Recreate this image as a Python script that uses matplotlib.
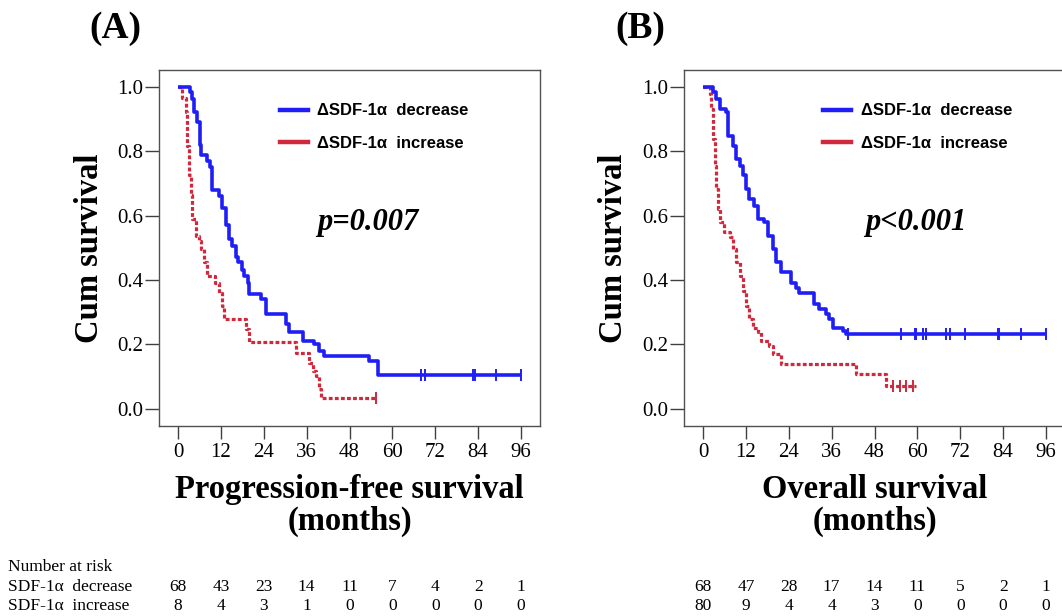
import matplotlib
matplotlib.use("Agg")
import matplotlib.pyplot as plt
from matplotlib.lines import Line2D
from matplotlib.transforms import blended_transform_factory

plt.rcParams['font.family'] = ['Liberation Serif', 'DejaVu Serif']

# ---- data ----
months = [0, 12, 24, 36, 48, 60, 72, 84, 96]

# (A) progression-free survival
pfs_dec_t = [0, 3.3, 3.8, 4.5, 5.4, 6.1, 6.4, 8.2, 8.9, 9.6, 11.6, 12.4, 13.4, 14.3, 15.2,
             16.2, 16.8, 18.0, 18.5, 19.5, 19.9, 23.2, 24.6, 30.2, 31.2, 35.0, 38.2, 39.6,
             41.0, 53.4, 56.0]
pfs_dec_s = [1.0, 0.985, 0.964, 0.922, 0.89, 0.82, 0.79, 0.77, 0.75, 0.68, 0.66, 0.625, 0.57,
             0.528, 0.507, 0.47, 0.455, 0.43, 0.413, 0.392, 0.356, 0.34, 0.294, 0.263, 0.237,
             0.21, 0.2, 0.18, 0.164, 0.148, 0.105]
pfs_dec_end = 96.1
pfs_dec_cens = [68.1, 69.0, 82.6, 83.1, 89.1, 96.1]

pfs_inc_t = [0, 1.0, 2.2, 2.6, 3.1, 3.6, 4.0, 5.0, 5.9, 6.4, 7.3, 8.0, 10.5, 11.5, 12.4, 12.9,
             19.0, 19.9, 33.0, 36.8, 37.7, 38.6, 39.6, 40.0]
pfs_inc_s = [1.0, 0.966, 0.922, 0.818, 0.725, 0.663, 0.59, 0.538, 0.52, 0.496, 0.455, 0.413,
             0.39, 0.361, 0.32, 0.278, 0.247, 0.206, 0.174, 0.143, 0.117, 0.102, 0.06, 0.034]
pfs_inc_end = 55.5
pfs_inc_cens = [55.5]

# (B) overall survival
os_dec_t = [0, 2.8, 3.7, 4.7, 6.5, 7.0, 8.4, 9.3, 10.3, 11.2, 12.1, 13.0, 14.4, 15.4, 17.2,
            18.2, 19.6, 20.5, 21.9, 24.7, 26.0, 27.0, 31.2, 32.6, 34.5, 35.4, 36.3, 39.1, 40.1]
os_dec_s = [1.0, 0.985, 0.964, 0.933, 0.922, 0.849, 0.818, 0.777, 0.756, 0.725, 0.683, 0.652,
            0.631, 0.59, 0.579, 0.538, 0.496, 0.455, 0.424, 0.39, 0.375, 0.361, 0.325, 0.309,
            0.293, 0.278, 0.252, 0.242, 0.232]
os_dec_end = 96.0
os_dec_cens = [40.5, 55.5, 59.3, 59.7, 61.5, 62.4, 68.0, 69.0, 73.2, 82.5, 82.9, 89.0, 96.0]

os_inc_t = [0, 1.9, 2.3, 2.8, 3.3, 3.7, 4.2, 4.9, 5.9, 7.5, 8.4, 9.3, 10.3, 11.2, 12.1, 13.0,
            14.0, 15.4, 16.3, 18.6, 19.6, 21.9, 42.9, 51.3]
os_inc_s = [1.0, 0.979, 0.933, 0.839, 0.756, 0.683, 0.621, 0.579, 0.548, 0.533, 0.496, 0.455,
            0.413, 0.367, 0.32, 0.278, 0.252, 0.237, 0.211, 0.195, 0.169, 0.138, 0.107, 0.071]
os_inc_end = 59.5
os_inc_cens = [53.1, 55.0, 56.9, 58.7]

risk_a_dec = [68, 43, 23, 14, 11, 7, 4, 2, 1]
risk_a_inc = [8, 4, 3, 1, 0, 0, 0, 0, 0]
risk_b_dec = [68, 47, 28, 17, 14, 11, 5, 2, 1]
risk_b_inc = [80, 9, 4, 4, 3, 0, 0, 0, 0]

blue = '#1f1ff5'
red = '#d0283c'

W, H = 1062, 616
fig = plt.figure(figsize=(W / 100, H / 100), dpi=100)


def make_axes(left, top, right, bottom):
    return fig.add_axes([left / W, 1 - bottom / H, (right - left) / W, (bottom - top) / H])


def km(ax, t, s, end, cens, color, ls, lw):
    tt = t + [end]
    ss = s + [s[-1]]
    ax.step(tt, ss, where='post', color=color, linestyle=ls, lw=lw, solid_capstyle='butt')
    ax.plot(cens, [s[-1]] * len(cens), linestyle='none', marker='|', ms=9, mew=1.4, color=color)


def style(ax):
    ax.set_xlim(-5.3, 101.3)
    ax.set_ylim(-0.054, 1.053)
    ax.set_xticks(months)
    ax.set_yticks([0, 0.2, 0.4, 0.6, 0.8, 1.0])
    ax.set_yticklabels(['0.0', '0.2', '0.4', '0.6', '0.8', '1.0'])
    for sp in ax.spines.values():
        sp.set_color('#505050')
        sp.set_linewidth(1.0)
    ax.tick_params(axis='both', colors='#404040', labelcolor='black', labelsize=15, width=1.0)
    ax.tick_params(axis='y', length=10, pad=1.5)
    ax.tick_params(axis='x', length=9, pad=3)


dotted = (0, (1.2, 0.7))
panels = [
    ('(A)', 159, 'p=0.007', 'Progression-free survival',
     (pfs_dec_t, pfs_dec_s, pfs_dec_end, pfs_dec_cens),
     (pfs_inc_t, pfs_inc_s, pfs_inc_end, pfs_inc_cens), risk_a_dec, risk_a_inc, 0.317, 0.415),
    ('(B)', 684, 'p<0.001', 'Overall survival',
     (os_dec_t, os_dec_s, os_dec_end, os_dec_cens),
     (os_inc_t, os_inc_s, os_inc_end, os_inc_cens), risk_b_dec, risk_b_inc, 0.365, 0.475),
]

for tag, left, ptxt, xlab, dec, inc, rdec, rinc, legx, px in panels:
    ax = make_axes(left, 70, left + 381, 426)
    km(ax, *inc, red, dotted, 2.3)
    km(ax, *dec, blue, '-', 2.6)
    style(ax)

    handles = [Line2D([], [], color=blue, lw=3.2), Line2D([], [], color=red, lw=3.2)]
    ax.legend(handles, ['ΔSDF-1α  decrease', 'ΔSDF-1α  increase'], loc='upper left',
              bbox_to_anchor=(legx, 0.906), frameon=False, borderpad=0, borderaxespad=0,
              handlelength=1.7, handletextpad=0.55, labelspacing=1.05,
              prop={'family': 'Liberation Sans', 'weight': 'bold', 'size': 12})

    ax.text(px, 0.573, ptxt, transform=ax.transAxes, fontsize=22, fontweight='bold',
            fontstyle='italic', va='center', ha='left')

    cx = (left + left + 381) / 2
    fig.text(cx / W, 1 - 498 / H, xlab, ha='center', va='baseline', fontsize=23.5,
             fontweight='bold')
    fig.text(cx / W, 1 - 530 / H, '(months)', ha='center', va='baseline', fontsize=23.5,
             fontweight='bold')
    fig.text((left - 70) / W, 1 - 248 / H, 'Cum survival', rotation=90, ha='center',
             va='center', fontsize=23.5, fontweight='bold')
    fig.text((left - 44) / W, 1 - 28 / H, tag, ha='center', va='center', fontsize=27,
             fontweight='bold')

    tr = blended_transform_factory(ax.transData, fig.transFigure)
    for m, a, b in zip(months, rdec, rinc):
        ax.text(m, 1 - 587 / H, str(a), transform=tr, ha='center', va='center',
                fontsize=12.5, clip_on=False)
        ax.text(m, 1 - 606 / H, str(b), transform=tr, ha='center', va='center',
                fontsize=12.5, clip_on=False)

fig.text(8 / W, 1 - 567 / H, 'Number at risk', ha='left', va='center', fontsize=12.5)
fig.text(8 / W, 1 - 587 / H, 'SDF-1α  decrease', ha='left', va='center', fontsize=12.5)
fig.text(8 / W, 1 - 606 / H, 'SDF-1α  increase', ha='left', va='center', fontsize=12.5)

fig.savefig('out.png', dpi=100, facecolor='white')
